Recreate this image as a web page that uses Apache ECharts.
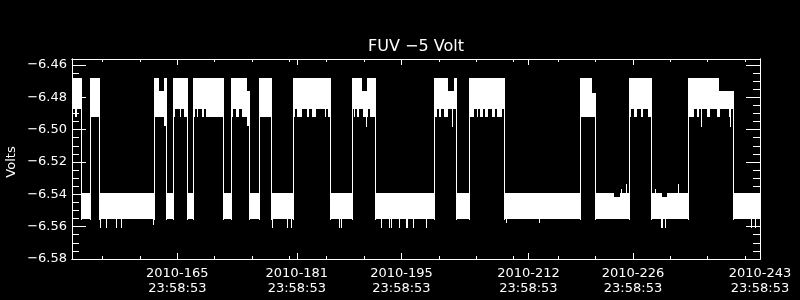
<!DOCTYPE html>
<html><head><meta charset="utf-8">
<script src="https://cdn.jsdelivr.net/npm/echarts@6/dist/echarts.min.js"></script>
<style>html,body{margin:0;padding:0;background:#000;}#c{width:800px;height:300px;}</style>
</head><body><div id="c"></div>
<script>
// ---- texts / axes ----
const chartTitle = 'FUV \u22125 Volt';
const yName = 'Volts';
const xYear = '2010';
const xTime = '23:58:53';
const xMajorDays = [165, 181, 195, 212, 226, 243];
const xMinorDays = [155, 160, 165, 170, 175, 180, 185, 190, 195, 200, 205, 210, 216, 221, 226, 231, 236, 241];
const yMajor = [-6.58, -6.56, -6.54, -6.52, -6.50, -6.48, -6.46];
const yMinor = [-6.575, -6.57, -6.565, -6.555, -6.55, -6.545, -6.535, -6.53, -6.525, -6.515, -6.51, -6.505,
                -6.495, -6.49, -6.485, -6.475, -6.47, -6.465];
const xRange = [150.9, 243.0];
const yRange = [-6.58, -6.4563];

// ---- data: plateaus of the signal, in time order [startDay, endDay, upperVolts, lowerVolts] ----
const plateaus = [
  [150.98, 152.14, -6.468, -6.487],
  [152.14, 153.35, -6.539, -6.555],
  [153.35, 154.47, -6.468, -6.492],
  [154.47, 161.92, -6.539, -6.555],
  [161.92, 162.52, -6.468, -6.492],
  [162.52, 163.23, -6.476, -6.492],
  [163.23, 163.49, -6.468, -6.4975],
  [163.49, 164.42, -6.539, -6.555],
  [164.42, 166.30, -6.468, -6.487],
  [166.30, 167.10, -6.539, -6.555],
  [167.10, 171.08, -6.468, -6.487],
  [171.08, 172.23, -6.539, -6.555],
  [172.23, 174.35, -6.468, -6.487],
  [174.35, 174.56, -6.476, -6.4975],
  [174.56, 175.90, -6.539, -6.555],
  [175.90, 177.59, -6.468, -6.492],
  [177.59, 180.49, -6.539, -6.555],
  [180.49, 185.49, -6.468, -6.487],
  [185.49, 188.40, -6.539, -6.555],
  [188.40, 189.73, -6.468, -6.487],
  [189.73, 190.36, -6.476, -6.487],
  [190.36, 191.44, -6.468, -6.487],
  [191.44, 199.42, -6.539, -6.555],
  [199.42, 201.25, -6.468, -6.487],
  [201.25, 202.00, -6.476, -6.487],
  [202.00, 202.28, -6.468, -6.487],
  [202.28, 204.11, -6.539, -6.555],
  [204.11, 208.79, -6.468, -6.487],
  [208.79, 218.84, -6.539, -6.555],
  [218.84, 220.55, -6.468, -6.492],
  [220.55, 220.85, -6.4775, -6.492],
  [220.85, 223.50, -6.539, -6.555],
  [223.50, 224.20, -6.5415, -6.555],
  [224.20, 225.53, -6.539, -6.555],
  [225.53, 228.35, -6.468, -6.487],
  [228.35, 229.86, -6.539, -6.555],
  [229.86, 230.50, -6.5415, -6.555],
  [230.50, 233.35, -6.539, -6.555],
  [233.35, 237.55, -6.468, -6.487],
  [237.55, 239.42, -6.476, -6.487],
  [239.42, 243.00, -6.539, -6.555]
];

// ragged lower edge of the high level [startDay, endDay, upperVolts, lowerVolts]
const fringes = [
  [151.25, 151.60, -6.487, -6.492],
  [164.42, 164.75, -6.487, -6.492], [165.30, 165.55, -6.487, -6.492], [165.85, 166.30, -6.487, -6.492],
  [167.10, 167.30, -6.487, -6.492], [167.57, 167.80, -6.487, -6.492], [168.33, 168.56, -6.487, -6.492],
  [168.87, 171.08, -6.487, -6.492],
  [172.23, 172.45, -6.487, -6.492], [172.85, 173.20, -6.487, -6.492], [173.60, 174.35, -6.487, -6.492],
  [180.49, 180.80, -6.487, -6.492], [181.03, 181.70, -6.487, -6.492], [182.37, 182.68, -6.487, -6.492],
  [183.06, 183.50, -6.487, -6.492], [184.75, 184.92, -6.487, -6.492], [185.18, 185.49, -6.487, -6.492],
  [188.62, 188.84, -6.487, -6.492], [189.07, 189.37, -6.487, -6.492], [189.90, 190.57, -6.487, -6.492],
  [190.80, 191.44, -6.487, -6.492],
  [199.50, 199.80, -6.487, -6.492], [200.00, 200.35, -6.487, -6.492], [200.70, 201.27, -6.487, -6.492],
  [204.20, 204.73, -6.487, -6.492], [205.10, 205.30, -6.487, -6.492], [205.54, 205.98, -6.487, -6.492],
  [206.20, 206.65, -6.487, -6.492], [207.10, 207.55, -6.487, -6.492], [207.77, 208.44, -6.487, -6.492],
  [225.53, 225.70, -6.487, -6.492], [226.16, 226.60, -6.487, -6.492], [227.05, 227.40, -6.487, -6.492],
  [227.95, 228.35, -6.487, -6.492],
  [233.43, 234.10, -6.487, -6.492], [234.56, 234.90, -6.487, -6.492], [235.90, 236.34, -6.487, -6.492],
  [237.24, 237.68, -6.487, -6.492], [238.80, 239.00, -6.487, -6.492]
];

// single-sample excursions [day, upperVolts, lowerVolts]
const spikes = [
  [154.70, -6.555, -6.5605], [155.40, -6.555, -6.5605], [156.80, -6.555, -6.5605], [157.50, -6.555, -6.5605],
  [161.70, -6.555, -6.5585],
  [177.68, -6.555, -6.5605], [179.70, -6.555, -6.5605], [180.20, -6.555, -6.5605],
  [186.70, -6.555, -6.5605], [186.97, -6.555, -6.5605],
  [192.30, -6.555, -6.5605], [193.40, -6.555, -6.5605], [193.62, -6.555, -6.5605], [194.72, -6.555, -6.5605],
  [195.55, -6.555, -6.5605], [195.80, -6.555, -6.5605], [196.60, -6.555, -6.5605], [198.35, -6.555, -6.5605],
  [209.04, -6.555, -6.5569], [213.46, -6.555, -6.5569],
  [224.43, -6.5369, -6.539], [225.10, -6.5334, -6.539],
  [228.99, -6.5367, -6.539], [232.04, -6.5336, -6.539],
  [229.78, -6.555, -6.5605], [229.90, -6.555, -6.5605], [230.27, -6.555, -6.5605],
  [241.74, -6.555, -6.5605], [242.27, -6.555, -6.5605],
  [190.28, -6.487, -6.4975], [201.83, -6.487, -6.4975], [235.13, -6.487, -6.4975], [238.93, -6.487, -6.4975]
];

// vertical switching lines between consecutive plateaus (derived from the plateaus)
const switches = [];
for (let i = 0; i + 1 < plateaus.length; i++) {
  const a = plateaus[i], b = plateaus[i + 1];
  const overlap = a[3] <= b[2] && b[3] <= a[2];
  if (!overlap) switches.push([a[1], Math.max(a[2], b[2]), Math.min(a[3], b[3])]);
}

const WHITE = '#ffffff';
const FONT = 'DejaVu Sans';

function rectItem(params, api) {
  const p = api.coord([api.value(0), api.value(2)]);
  const q = api.coord([api.value(1), api.value(3)]);
  const x0 = Math.round(p[0]), x1 = Math.round(q[0]);
  const y0 = Math.round(p[1]), y1 = Math.round(q[1]);
  return { type: 'rect', shape: { x: x0, y: y0, width: Math.max(1, x1 - x0), height: Math.max(1, y1 - y0) },
           style: { fill: WHITE } };
}
function lineItem(params, api) {
  const p = api.coord([api.value(0), api.value(1)]);
  const q = api.coord([api.value(0), api.value(2)]);
  const x = Math.round(p[0]);
  const y0 = Math.round(Math.min(p[1], q[1])), y1 = Math.round(Math.max(p[1], q[1]));
  return { type: 'rect', shape: { x: x, y: y0, width: 1, height: Math.max(1, y1 - y0 + 1) },
           style: { fill: WHITE } };
}

function xAxisDef(position, ticks, len, withLabel) {
  return {
    type: 'value', position: position, min: xRange[0], max: xRange[1], gridIndex: 0,
    axisLine: { show: true, onZero: false, lineStyle: { color: WHITE, width: 1 } },
    axisTick: { show: true, inside: true, length: len, customValues: ticks, lineStyle: { color: WHITE, width: 1 } },
    axisLabel: withLabel ? {
      show: true, customValues: xMajorDays, color: WHITE, fontFamily: FONT, fontSize: 13,
      lineHeight: 15, margin: 7,
      formatter: v => xYear + '-' + Math.round(v) + '\n' + xTime
    } : { show: false },
    splitLine: { show: false }
  };
}
function yAxisDef(position, ticks, len, withLabel) {
  return {
    type: 'value', position: position, min: yRange[0], max: yRange[1], gridIndex: 0,
    axisLine: { show: true, onZero: false, lineStyle: { color: WHITE, width: 1 } },
    axisTick: { show: true, inside: true, length: len, customValues: ticks, lineStyle: { color: WHITE, width: 1 } },
    axisLabel: withLabel ? {
      show: true, customValues: yMajor, color: WHITE, fontFamily: FONT, fontSize: 13, margin: 5,
      formatter: v => (v < 0 ? '\u2212' : '') + Math.abs(v).toFixed(2)
    } : { show: false },
    splitLine: { show: false }
  };
}

const chart = echarts.init(document.getElementById('c'), null, { renderer: 'canvas' });
chart.setOption({
  backgroundColor: '#000000',
  animation: false,
  grid: { left: 72, top: 59, width: 688, height: 200, containLabel: false },
  xAxis: [
    xAxisDef('bottom', xMajorDays, 6, true),
    xAxisDef('bottom', xMinorDays, 3, false),
    xAxisDef('top', xMajorDays, 6, false),
    xAxisDef('top', xMinorDays, 3, false)
  ],
  yAxis: [
    yAxisDef('left', yMajor, 14, true),
    yAxisDef('left', yMinor, 7, false),
    yAxisDef('right', yMajor, 14, false),
    yAxisDef('right', yMinor, 7, false)
  ],
  graphic: [
    { type: 'text', x: 416, y: 47, silent: true,
      style: { text: chartTitle, fill: WHITE, font: '16px "DejaVu Sans"', align: 'center', verticalAlign: 'middle' } },
    { type: 'text', x: 12, y: 162, rotation: Math.PI / 2, silent: true,
      style: { text: yName, fill: WHITE, font: '13px "DejaVu Sans"', align: 'center', verticalAlign: 'middle' } }
  ],
  series: [
    { type: 'custom', name: 'plateaus', xAxisIndex: 0, yAxisIndex: 0, clip: true, silent: true,
      renderItem: rectItem, encode: { x: [0, 1], y: [2, 3] }, data: plateaus },
    { type: 'custom', name: 'fringes', xAxisIndex: 0, yAxisIndex: 0, clip: true, silent: true,
      renderItem: rectItem, encode: { x: [0, 1], y: [2, 3] }, data: fringes },
    { type: 'custom', name: 'switches', xAxisIndex: 0, yAxisIndex: 0, clip: true, silent: true,
      renderItem: lineItem, encode: { x: 0, y: [1, 2] }, data: switches },
    { type: 'custom', name: 'spikes', xAxisIndex: 0, yAxisIndex: 0, clip: true, silent: true,
      renderItem: lineItem, encode: { x: 0, y: [1, 2] }, data: spikes }
  ]
});
</script>
</body></html>
